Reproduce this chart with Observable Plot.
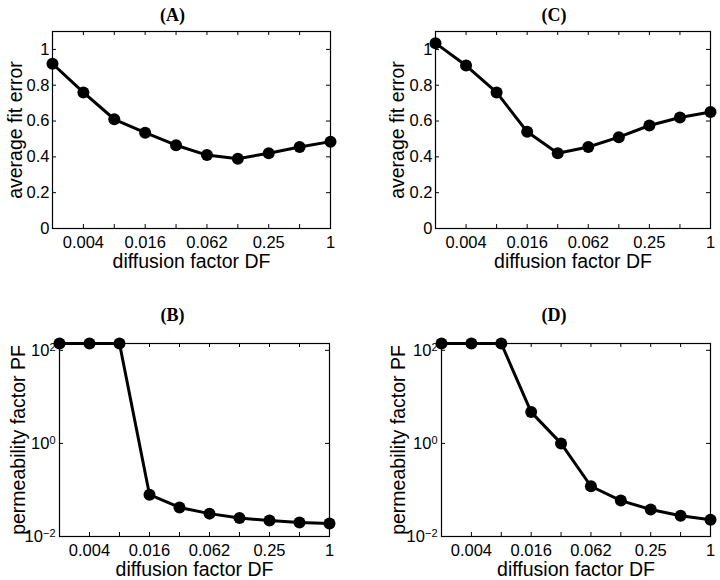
<!DOCTYPE html>
<html>
<head>
<meta charset="utf-8">
<script src="https://cdn.jsdelivr.net/npm/d3@7"></script>
<script src="https://cdn.jsdelivr.net/npm/@observablehq/plot@0.6"></script>
<style>
  html, body { margin: 0; padding: 0; background: #fff; }
  #wrap { position: relative; width: 720px; height: 580px; background: #fff; }
  .panel { position: absolute; width: 360px; height: 290px; }
</style>
</head>
<body>
<div id="wrap"></div>
<script>
// diffusion factor DF (powers of two from 2^-9 to 2^0)
const df = [0.001953125, 0.00390625, 0.0078125, 0.015625, 0.03125, 0.0625, 0.125, 0.25, 0.5, 1];

// (A) average fit error
const errA = [0.92, 0.76, 0.61, 0.535, 0.465, 0.41, 0.39, 0.42, 0.455, 0.485];
// (C) average fit error
const errC = [1.035, 0.91, 0.76, 0.54, 0.42, 0.455, 0.51, 0.575, 0.62, 0.65];
// (B) permeability factor PF
const pfB = [140, 140, 140, 0.079, 0.042, 0.031, 0.025, 0.022, 0.020, 0.019];
// (D) permeability factor PF
const pfD = [140, 140, 140, 4.7, 1.0, 0.12, 0.059, 0.038, 0.028, 0.023];

// tick values and labels
const xTickValues = [0.00390625, 0.015625, 0.0625, 0.25, 1];
const xTickLabels = ["0.004", "0.016", "0.062", "0.25", "1"];
const errTicks = [0, 0.2, 0.4, 0.6, 0.8, 1];
const errTickLabels = ["0", "0.2", "0.4", "0.6", "0.8", "1"];
const pfTicks = [0.01, 1, 100];
const pfTickLabels = ["10^-2", "10^0", "10^2"];

const titles = ["(A)", "(B)", "(C)", "(D)"];
const xLabel = "diffusion factor DF";
const yLabels = ["average fit error", "permeability factor PF"];

const FONT = "'Liberation Sans', Arial, Helvetica, sans-serif";

function panel(cfg) {
  const W = 360, H = 290;
  const fw = W - cfg.ml - cfg.mr;
  const fh = H - cfg.mt - cfg.mb;
  const data = df.map((x, i) => ({x, y: cfg.values[i]}));
  const yScale = cfg.log
    ? {type: "log", domain: [0.01, 140]}
    : {type: "linear", domain: [0, 1.1]};
  const yT = cfg.log ? pfTicks : errTicks;
  const yL = cfg.log ? pfTickLabels : errTickLabels;
  const svg = Plot.plot({
    width: W, height: H,
    marginLeft: cfg.ml, marginRight: cfg.mr, marginTop: cfg.mt, marginBottom: cfg.mb,
    style: {fontFamily: FONT, fontSize: "16px", background: "transparent", overflow: "visible", color: "black"},
    x: {type: "log", base: 2, domain: [df[0], df[df.length - 1]]},
    y: yScale,
    marks: [
      Plot.frame({stroke: "black", strokeWidth: 1.2}),
      // inward tick marks
      Plot.ruleX(df, {x: d => d, insetTop: fh - 4, stroke: "black", strokeWidth: 1}),
      Plot.ruleX(df, {x: d => d, insetBottom: fh - 4, stroke: "black", strokeWidth: 1}),
      Plot.ruleY(yT, {y: d => d, insetRight: fw - 4, stroke: "black", strokeWidth: 1}),
      Plot.ruleY(yT, {y: d => d, insetLeft: fw - 4, stroke: "black", strokeWidth: 1}),
      Plot.axisX(xTickValues, {
        tickFormat: d => xTickLabels[xTickValues.indexOf(d)],
        tickSize: 0, tickPadding: 8, fontSize: 16.5, label: null
      }),
      Plot.axisY(yT, {
        tickFormat: d => yL[yT.indexOf(d)],
        tickSize: 0, tickPadding: cfg.log ? 4 : 3, fontSize: 16.5, label: null
      }),
      Plot.line(data, {x: "x", y: "y", stroke: "black", strokeWidth: 3}),
      Plot.dot(data, {x: "x", y: "y", r: 6, fill: "black", stroke: null}),
      Plot.text([cfg.title], {text: d => d, frameAnchor: "top", lineAnchor: "middle", textAnchor: "middle",
        dx: cfg.tdx, dy: cfg.tdy,
        fontFamily: "'Liberation Serif', 'Times New Roman', serif", fontWeight: "bold", fontSize: 18}),
      Plot.text([xLabel], {text: d => d, frameAnchor: "bottom", lineAnchor: "middle", textAnchor: "middle",
        dy: 33, fontSize: 19.5}),
      Plot.text([cfg.ylabel], {text: d => d, frameAnchor: "left", lineAnchor: "middle", textAnchor: "middle",
        dx: cfg.ydx, rotate: -90, fontSize: 19.5})
    ]
  });
  // superscript exponents on log tick labels
  const ns = "http://www.w3.org/2000/svg";
  svg.querySelectorAll("text").forEach(t => {
    const m = t.textContent.match(/^10\^(-?\d+)$/);
    if (m) {
      t.textContent = "10";
      const ts = document.createElementNS(ns, "tspan");
      ts.setAttribute("dy", "-0.45em");
      ts.setAttribute("font-size", "11");
      ts.textContent = m[1].replace("-", "\u2212");
      t.appendChild(ts);
    }
  });
  const div = document.createElement("div");
  div.className = "panel";
  div.style.left = cfg.left + "px";
  div.style.top = cfg.top + "px";
  div.appendChild(svg);
  document.getElementById("wrap").appendChild(div);
}

panel({title: titles[0], ylabel: yLabels[0], values: errA, log: false, left: 0, top: 0,
  ml: 52, mr: 30, mt: 31, mb: 62, tdx: -19, tdy: -16, ydx: -37});
panel({title: titles[2], ylabel: yLabels[0], values: errC, log: false, left: 360, top: 0,
  ml: 75, mr: 10, mt: 31, mb: 62, tdx: -19, tdy: -16, ydx: -38});
panel({title: titles[1], ylabel: yLabels[1], values: pfB, log: true, left: 0, top: 290,
  ml: 59, mr: 31, mt: 53, mb: 44, tdx: -22, tdy: -28, ydx: -41});
panel({title: titles[3], ylabel: yLabels[1], values: pfD, log: true, left: 360, top: 290,
  ml: 81, mr: 10, mt: 53, mb: 44, tdx: -22, tdy: -28, ydx: -43});
</script>
</body>
</html>
